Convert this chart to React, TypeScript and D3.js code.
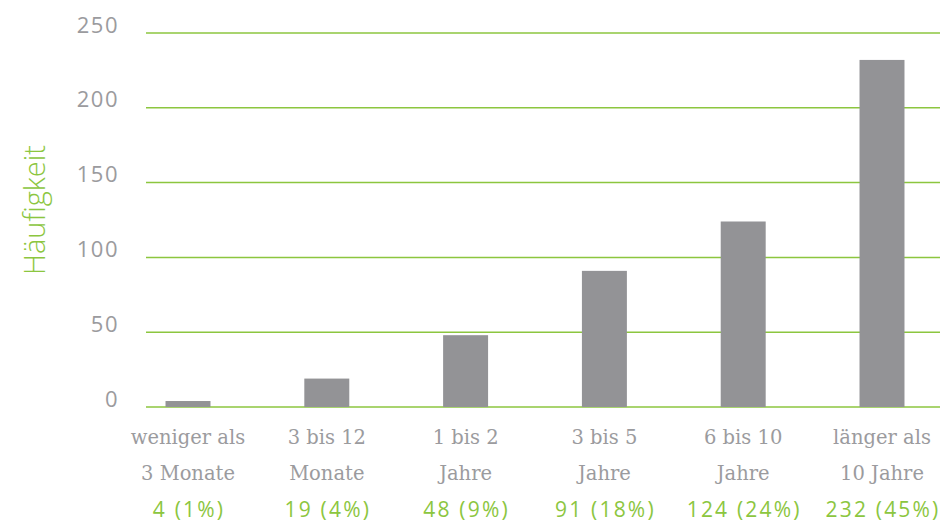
import React from "react";
import * as d3 from "d3";

const categoriesLine1 = ["weniger als", "3 bis 12", "1 bis 2", "3 bis 5", "6 bis 10", "länger als"];
const categoriesLine2 = ["3 Monate", "Monate", "Jahre", "Jahre", "Jahre", "10 Jahre"];
const counts = [4, 19, 48, 91, 124, 232];
const percents = [1, 4, 9, 18, 24, 45];
const yTicks = [0, 50, 100, 150, 200, 250];

const GREEN = "#8cc63f";
const GRAY_TEXT = "#9b9b9e";
const BAR = "#939396";

export default function App() {
  const width = 948;
  const height = 523;
  const x = d3.scaleBand<number>().domain(d3.range(counts.length)).range([118.6, 951.4]).paddingInner(0.676).paddingOuter(0.338);
  const y = d3.scaleLinear().domain([0, 250]).range([407, 33]);
  return (
    <svg width={width} height={height} style={{ position: "absolute", left: 0, top: 0 }}>
      {yTicks.map((t) => (
        <g key={t}>
          <line x1={146} x2={940} y1={y(t)} y2={y(t)} stroke={GREEN} strokeWidth={1.5} />
          <text x={119} y={y(t) - 0.5} textAnchor="end" fontFamily="'Open Sans', sans-serif" fontSize={22} letterSpacing={1.5} fill={GRAY_TEXT}>
            {t}
          </text>
        </g>
      ))}
      {counts.map((v, i) => (
        <rect key={i} x={x(i)} width={x.bandwidth()} y={y(v)} height={y(0) - y(v)} fill={BAR} />
      ))}
      {counts.map((v, i) => {
        const cx = (x(i) as number) + x.bandwidth() / 2;
        return (
          <g key={i} textAnchor="middle">
            <text x={cx} y={444} fontFamily="'DejaVu Serif', serif" fontSize={19.5} fill={GRAY_TEXT}>{categoriesLine1[i]}</text>
            <text x={cx} y={480} fontFamily="'DejaVu Serif', serif" fontSize={19.5} fill={GRAY_TEXT}>{categoriesLine2[i]}</text>
            <text x={cx + 1} y={517} fontFamily="'Open Sans', sans-serif" fontSize={21} letterSpacing={2.2} fill={GREEN}>{`${v} (${percents[i]}%)`}</text>
          </g>
        );
      })}
      <text transform="translate(45,210) rotate(-90)" textAnchor="middle" fontFamily="'Open Sans', sans-serif" fontWeight={300} fontSize={29} fill={GREEN}>
        Häufigkeit
      </text>
    </svg>
  );
}
